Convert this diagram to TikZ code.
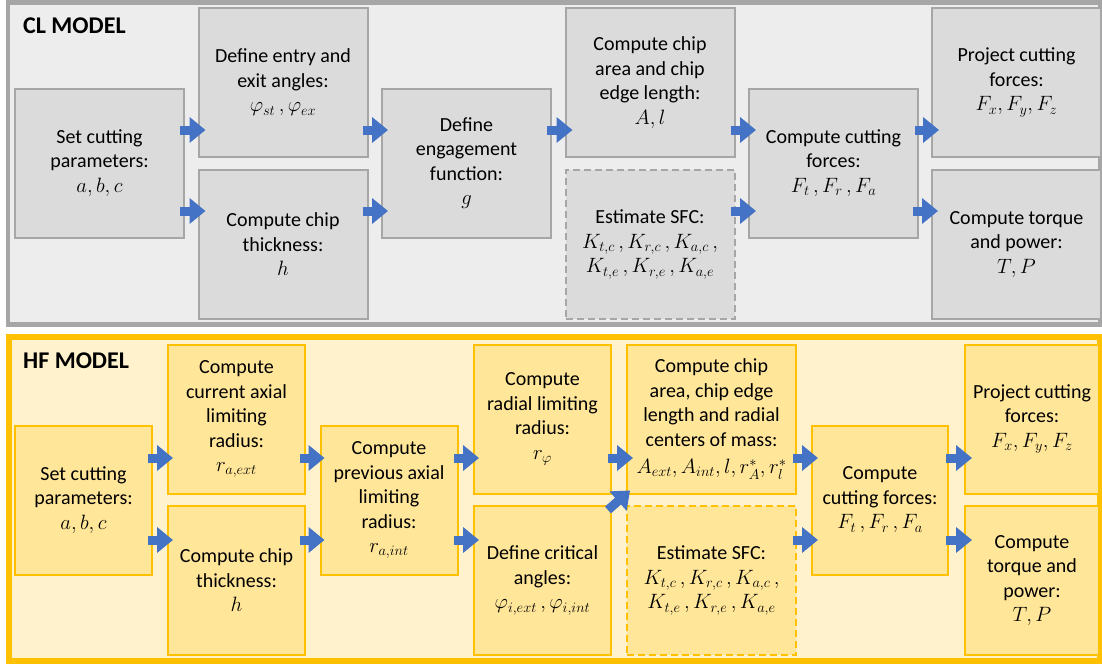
\documentclass[tikz,border=0pt]{standalone}
\usepackage{fontspec}
\setmainfont{Carlito}
\usetikzlibrary{arrows.meta}
\definecolor{clframe}{HTML}{A6A6A6}
\definecolor{clbg}{HTML}{EDEDED}
\definecolor{clbox}{HTML}{DBDBDB}
\definecolor{hfframe}{HTML}{FFC000}
\definecolor{hfbg}{HTML}{FFF2CC}
\definecolor{hfbox}{HTML}{FFE699}
\definecolor{arrblue}{HTML}{4472C4}
\tikzset{
  box/.style={draw, line width=2pt, align=center, inner sep=0pt, outer sep=0pt,
    font=\fontsize{20}{24.5}\selectfont},
  clbx/.style={box, draw=clframe, fill=clbox, minimum width=169pt, minimum height=149pt},
  hfbx/.style={box, draw=hfframe, fill=hfbox, minimum width=137pt, minimum height=149pt},
  dashbox/.style={dash pattern=on 7pt off 4pt},
  barrow/.style={draw=arrblue, line width=9pt, -{Triangle[width=25pt,length=16pt]}, arrblue},
  title/.style={anchor=base west, inner sep=0pt, font=\fontsize{24}{28}\bfseries\selectfont}
}
\begin{document}
\begin{tikzpicture}[x=1pt,y=-1pt]
\useasboundingbox (0,0) rectangle (1102,664);
% frames
\draw[draw=clframe, fill=clbg, line width=4.5pt] (8,2.5) rectangle (1100,324.5);
\draw[draw=hfframe, fill=hfbg, line width=6pt] (8.5,337) rectangle (1100,660.5);
\node[title] (cltitle) at (23,33) {CL MODEL};
\node[title] (hftitle) at (23,368) {HF MODEL};
% CL boxes
\node[clbx] (cset)   at (99.5,163)   {Set cutting\\parameters:\\$a, b, c$};
\node[clbx] (centry) at (283,82.5)   {Define entry and\\exit angles:\\$\varphi_{st}\,, \varphi_{ex}$};
\node[clbx] (cthick) at (283,244.5)  {Compute chip\\thickness:\\$h$};
\node[clbx] (ceng)   at (466.5,163)  {Define\\engagement\\function:\\$g$};
\node[clbx] (carea)  at (650,82.5)   {Compute chip\\area and chip\\edge length:\\$A, l$};
\node[clbx, dashbox] (csfc) at (650,244.5) {Estimate SFC:\\$K_{t,c}\,, K_{r,c}\,, K_{a,c}\,,$\\$K_{t,e}\,, K_{r,e}\,, K_{a,e}$};
\node[clbx] (cforce) at (833.5,163)  {Compute cutting\\forces:\\$F_t\,, F_r\,, F_a$};
\node[clbx] (cproj)  at (1016.5,82.5) {Project cutting\\forces:\\$F_x, F_y, F_z$};
\node[clbx] (ctorq)  at (1016.5,244.5) {Compute torque\\and power:\\$T, P$};
% HF boxes
\node[hfbx] (hset)   at (83.5,500)   {Set cutting\\parameters:\\$a, b, c$};
\node[hfbx] (hcur)   at (236.5,419)  {Compute\\current axial\\limiting\\radius:\\$r_{a,ext}$};
\node[hfbx] (hthick) at (236.5,580.5) {Compute chip\\thickness:\\$h$};
\node[hfbx] (hprev)  at (389,500)    {Compute\\previous axial\\limiting\\radius:\\$r_{a,int}$};
\node[hfbx] (hrad)   at (542.5,419)  {Compute\\radial limiting\\radius:\\$r_{\varphi}$};
\node[hfbx] (hcrit)  at (542.5,580.5) {Define critical\\angles:\\$\varphi_{i,ext}\,, \varphi_{i,int}$};
\node[hfbx, minimum width=169pt] (harea) at (711.5,419) {Compute chip\\area, chip edge\\length and radial\\centers of mass:\\[3pt]$A_{ext}, A_{int}, l, r_A^*, r_l^*$};
\node[hfbx, minimum width=169pt, dashbox] (hsfc) at (711.5,580.5) {Estimate SFC:\\$K_{t,c}\,, K_{r,c}\,, K_{a,c}\,,$\\$K_{t,e}\,, K_{r,e}\,, K_{a,e}$};
\node[hfbx, minimum width=136pt] (hforce) at (880,500) {Compute\\cutting forces:\\$F_t\,, F_r\,, F_a$};
\node[hfbx, minimum width=134pt] (hproj) at (1032,419) {Project cutting\\forces:\\$F_x, F_y, F_z$};
\node[hfbx, minimum width=134pt] (htorq) at (1032,580.5) {Compute\\torque and\\power:\\$T, P$};
% row coordinates
\coordinate (ca) at (0,130);
\coordinate (cb) at (0,211);
\coordinate (ha) at (0,458);
\coordinate (hb) at (0,540);
% CL arrows
\draw[barrow] ([xshift=-4pt]cset.east |- ca) -- ([xshift=7pt]centry.west |- ca);
\draw[barrow] ([xshift=-4pt]cset.east |- cb) -- ([xshift=7pt]cthick.west |- cb);
\draw[barrow] ([xshift=-5pt]centry.east |- ca) -- ([xshift=6pt]ceng.west |- ca);
\draw[barrow] ([xshift=-5pt]cthick.east |- cb) -- ([xshift=6pt]ceng.west |- cb);
\draw[barrow] ([xshift=-4pt]ceng.east |- ca) -- ([xshift=7pt]carea.west |- ca);
\draw[barrow] ([xshift=-4pt]carea.east |- ca) -- ([xshift=7pt]cforce.west |- ca);
\draw[barrow] ([xshift=-4pt]csfc.east |- cb) -- ([xshift=7pt]cforce.west |- cb);
\draw[barrow] ([xshift=-3pt]cforce.east |- ca) -- ([xshift=7pt]cproj.west |- ca);
\draw[barrow] ([xshift=-5pt]cforce.east |- cb) -- ([xshift=6pt]ctorq.west |- cb);
% HF arrows
\draw[barrow] ([xshift=-4pt]hset.east |- ha) -- ([xshift=5pt]hcur.west |- ha);
\draw[barrow] ([xshift=-4pt]hset.east |- hb) -- ([xshift=5pt]hthick.west |- hb);
\draw[barrow] ([xshift=-5pt]hcur.east |- ha) -- ([xshift=4pt]hprev.west |- ha);
\draw[barrow] ([xshift=-5pt]hthick.east |- hb) -- ([xshift=4pt]hprev.west |- hb);
\draw[barrow] ([xshift=-4pt]hprev.east |- ha) -- ([xshift=5pt]hrad.west |- ha);
\draw[barrow] ([xshift=-4pt]hprev.east |- hb) -- ([xshift=5pt]hcrit.west |- hb);
\draw[barrow] ([xshift=-3pt]hrad.east |- ha) -- ([xshift=6pt]harea.west |- ha);
\draw[barrow] ([xshift=-3pt,yshift=-4pt]hcrit.north east) -- ([xshift=3pt,yshift=3pt]harea.south west);
\draw[barrow] ([xshift=-3pt]harea.east |- ha) -- ([xshift=6pt]hforce.west |- ha);
\draw[barrow] ([xshift=-3pt]hsfc.east |- hb) -- ([xshift=6pt]hforce.west |- hb);
\draw[barrow] ([xshift=-2pt]hforce.east |- ha) -- ([xshift=7pt]hproj.west |- ha);
\draw[barrow] ([xshift=-2pt]hforce.east |- hb) -- ([xshift=7pt]htorq.west |- hb);
\end{tikzpicture}
\end{document}
